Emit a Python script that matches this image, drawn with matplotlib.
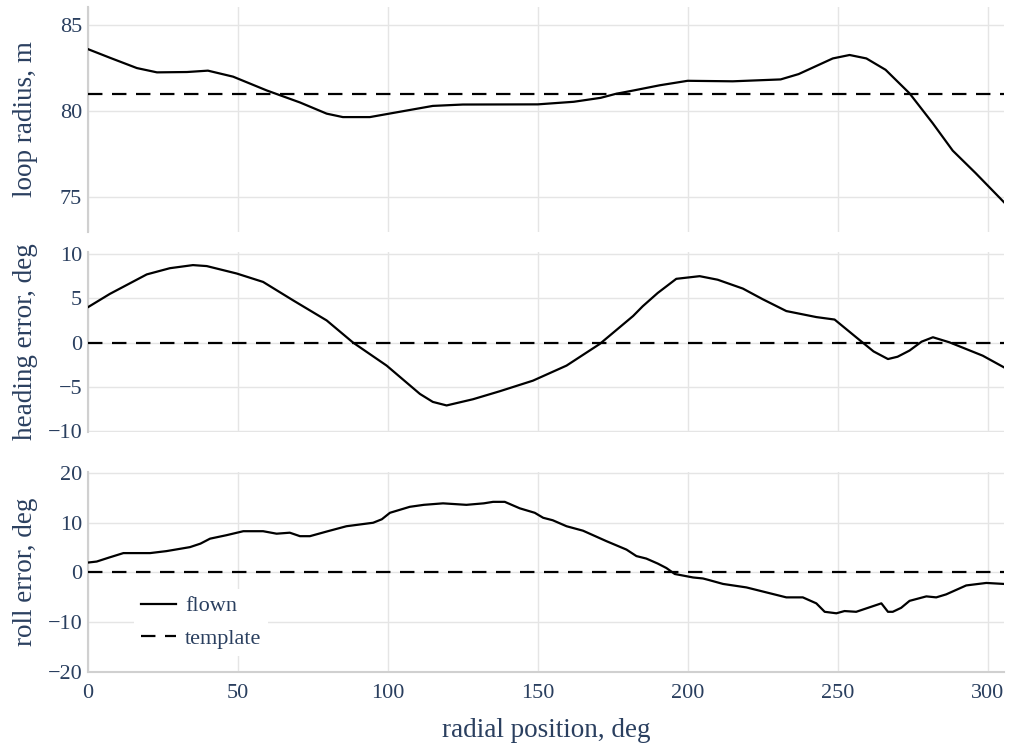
import numpy as np
import matplotlib
matplotlib.use("Agg")
import matplotlib.pyplot as plt

plt.rcParams['font.family'] = ['Liberation Serif', 'DejaVu Serif']

# radial position (deg) and values
r_x = [0, 7.3, 16.3, 23, 33, 40, 48.4, 59.6, 70.7, 79.6, 85, 94, 104, 115, 125,
       150, 162, 171, 176, 182, 190.7, 200, 215, 231, 237, 248.4, 254, 259.6,
       266, 274, 281.7, 288.4, 296, 305.5]
radius = [83.6, 83.1, 82.5, 82.25, 82.27, 82.35, 82.0, 81.2, 80.5, 79.85, 79.65,
          79.65, 79.96, 80.3, 80.38, 80.39, 80.54, 80.77, 81.0, 81.2, 81.5,
          81.76, 81.73, 81.84, 82.15, 83.06, 83.26, 83.06, 82.4, 81.03, 79.3,
          77.7, 76.4, 74.7]
radius_template = 81.0

h_x = [0, 7.3, 19.6, 27.3, 35, 39.6, 49.6, 58.4, 68.4, 79.6, 88.4, 99.6, 110.7,
       115, 119.6, 128.4, 137.3, 148.4, 159.6, 170.7, 181.8, 185, 190, 196.2,
       204, 210, 218.4, 225, 232.9, 242.9, 249, 256.2, 262, 266.8, 270, 274,
       278, 281.8, 287.3, 298.4, 305.5]
heading = [4.0, 5.5, 7.7, 8.4, 8.75, 8.64, 7.8, 6.85, 4.77, 2.5, 0.0, -2.6, -5.8,
           -6.7, -7.1, -6.4, -5.5, -4.3, -2.6, -0.15, 3.0, 4.1, 5.6, 7.2, 7.5,
           7.1, 6.1, 4.9, 3.56, 2.88, 2.6, 0.6, -1.0, -1.86, -1.6, -0.9, 0.1,
           0.6, 0.03, -1.48, -2.8]

ro_x = [0, 2.9, 7, 11.8, 20.7, 26.2, 34, 37.5, 40.7, 46.2, 51.8, 58.4, 62.9, 67.3,
        70.7, 74, 80, 86.2, 95.1, 98, 100.7, 107.3, 112, 118.4, 126.2, 132,
        135.1, 139, 144, 149, 151.8, 155, 159.6, 165.1, 172.9, 179.6, 182.9,
        186.2, 190, 192.9, 195.7, 201.8, 205.1, 207, 211.8, 219.6, 232.9, 238.4,
        242.9, 245.7, 249.6, 252.3, 256.2, 264.6, 266.8, 268.4, 271.2, 274,
        279.6, 282.9, 286.2, 292.9, 299.6, 305.5]
roll = [2.0, 2.2, 3.0, 3.9, 3.9, 4.3, 5.1, 5.8, 6.8, 7.5, 8.3, 8.3, 7.8, 8.0,
        7.3, 7.3, 8.3, 9.3, 10.0, 10.7, 12.0, 13.2, 13.6, 13.9, 13.6, 13.9,
        14.2, 14.2, 12.9, 12.0, 11.0, 10.5, 9.3, 8.4, 6.3, 4.6, 3.3, 2.8, 1.8,
        0.9, -0.3, -1.0, -1.2, -1.5, -2.3, -3.0, -5.0, -5.0, -6.2, -7.9, -8.2,
        -7.75, -7.9, -6.2, -7.9, -7.9, -7.1, -5.7, -4.8, -5.0, -4.4, -2.6,
        -2.1, -2.3]

xlim = (0, 305.5)
text_col = '#2a3f5f'
grid_col = '#e5e5e5'
line_col = '#d0d0d0'
dash = (0, (6.5, 4.3))

W, H = 1010, 748
fig = plt.figure(figsize=(W / 100, H / 100), dpi=100)


def add_panel(top, bottom):
    return fig.add_axes([88 / W, 1 - bottom / H, (1004 - 88) / W, (bottom - top) / H])


panels = [
    (add_panel(7, 232), r_x, radius, radius_template, (72.97, 86.05), [75, 80, 85], 'loop radius, m'),
    (add_panel(252, 432), h_x, heading, 0.0, (-10.1, 10.23), [-10, -5, 0, 5, 10], 'heading error, deg'),
    (add_panel(472, 672), ro_x, roll, 0.0, (-20, 20.2), [-20, -10, 0, 10, 20], 'roll error, deg'),
]

for i, (ax, xs, ys, tmpl, ylim, yt, ylab) in enumerate(panels):
    ax.plot(xs, ys, color='black', lw=1.6, label='flown', zorder=3)
    ax.axhline(tmpl, color='black', lw=1.6, ls=dash, label='template', zorder=3)
    ax.set_xlim(*xlim)
    ax.set_ylim(*ylim)
    ax.set_yticks(yt)
    ax.set_xticks([0, 50, 100, 150, 200, 250, 300])
    ax.grid(True, color=grid_col, lw=1.0, zorder=0)
    for s in ['top', 'right']:
        ax.spines[s].set_visible(False)
    ax.spines['left'].set_color(line_col)
    ax.spines['left'].set_linewidth(1.5)
    if i < 2:
        ax.spines['bottom'].set_visible(False)
        ax.tick_params(axis='x', labelbottom=False)
    else:
        ax.spines['bottom'].set_color(line_col)
        ax.spines['bottom'].set_linewidth(1.5)
    ax.tick_params(length=0, labelsize=16, labelcolor=text_col)
    ax.tick_params(axis='y', pad=4.2)
    ax.tick_params(axis='x', pad=8.5)
    ax.set_ylabel(ylab, fontsize=19.5, color=text_col)
    ax.yaxis.set_label_coords(-0.055, 0.5)

ax3 = panels[2][0]
ax3.set_xlabel('radial position, deg', fontsize=19.5, color=text_col, labelpad=11)
leg = ax3.legend(loc='upper left', bbox_to_anchor=(0.038, 0.47), frameon=True,
                 facecolor='white', edgecolor='none', framealpha=1, fancybox=False,
                 fontsize=16, handlelength=1.6, handletextpad=0.4,
                 labelspacing=0.55, borderpad=0.3)
for t in leg.get_texts():
    t.set_color(text_col)

fig.savefig('out.png', dpi=100)
